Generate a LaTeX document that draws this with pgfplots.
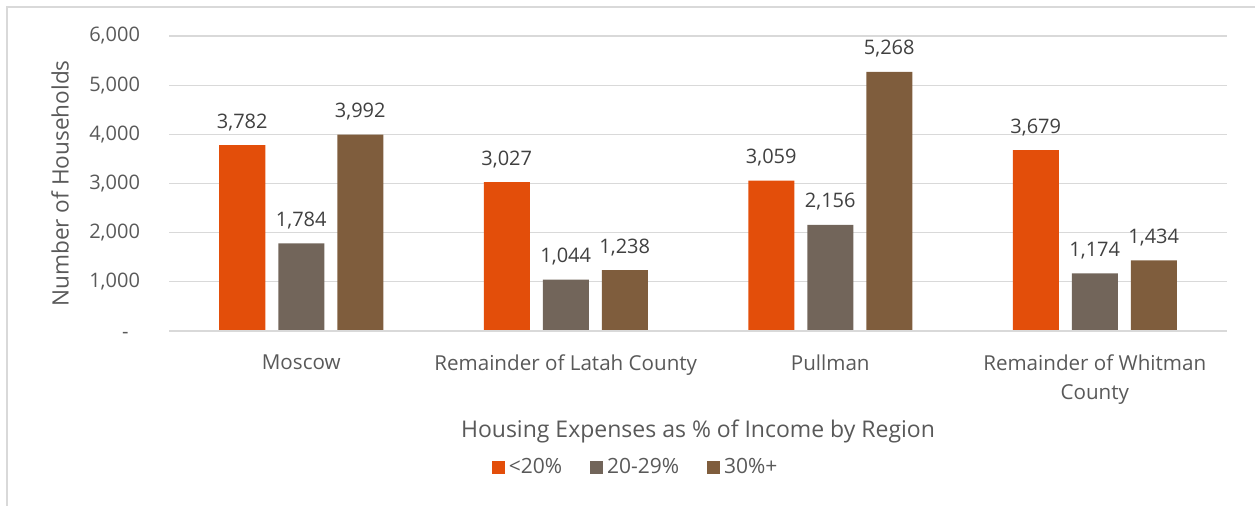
\documentclass[border=0pt]{standalone}
\usepackage{pgfplots}
\pgfplotsset{compat=1.18}
\usepackage{fontspec}
\setmainfont{Open Sans}
\definecolor{cA}{HTML}{E34E0A}
\definecolor{cB}{HTML}{72655A}
\definecolor{cC}{HTML}{7F5D3D}
\definecolor{txt}{HTML}{595959}
\definecolor{lbl}{HTML}{404040}
\definecolor{grd}{HTML}{D9D9D9}
\begin{document}
\begin{tikzpicture}
\useasboundingbox (0,0) rectangle (627.5pt,253pt);
\draw[grd, line width=0.6pt] (3.5pt,0) -- (3.5pt,249.5pt) -- (627.5pt,249.5pt);
\begin{axis}[
  at={(84.5pt,87.5pt)}, anchor=south west,
  scale only axis, width=529pt, height=147.5pt,
  ybar=6.5pt, bar width=23pt,
  xmin=-0.5, xmax=3.5, ymin=0, ymax=6000,
  xtick={0,1,2,3},
  xticklabels={Moscow, Remainder of Latah County, Pullman, {Remainder of Whitman\\County}},
  xticklabel style={align=center, font=\fontsize{10.3}{14.5}\selectfont, text=txt, anchor=north, yshift=-8.5pt},
  ytick={0,1000,2000,3000,4000,5000,6000},
  yticklabels={{-\phantom{0}},{1,000},{2,000},{3,000},{4,000},{5,000},{6,000}},
  yticklabel style={font=\fontsize{10}{12}\selectfont, text=txt, anchor=east, xshift=-11pt},
  major tick length=0pt, tick style={draw=none},
  axis line style={draw=none},
  ymajorgrids, grid style={grd, line width=0.6pt},
  clip=false,
  ylabel={Number of Households},
  ylabel style={at={(axis description cs:-0.103,0.5)}, anchor=center, font=\fontsize{11.3}{13}\selectfont, text=txt},
  xlabel={Housing Expenses as \% of Income by Region},
  xlabel style={at={(axis description cs:0.5,-0.339)}, anchor=center, font=\fontsize{11.5}{13}\selectfont, text=txt},
  nodes near coords,
  nodes near coords style={anchor=base, yshift=8.5pt, inner sep=0pt, font=\fontsize{10}{12}\selectfont, text=lbl,
    /pgf/number format/.cd, fixed, precision=0, 1000 sep={,}, assume math mode=true},
  legend style={at={(axis description cs:0.442,-0.464)}, anchor=center, draw=none, fill=none,
    legend columns=3, font=\fontsize{10.5}{12}\selectfont, text=txt,
    /tikz/every even column/.append style={column sep=12pt}},
  legend image code/.code={\fill[#1] (0pt,-3.25pt) rectangle (6.5pt,3.25pt);},
]
\addplot[fill=cA, draw=none] coordinates {(0,3782) (1,3027) (2,3059) (3,3679)};
\addplot[fill=cB, draw=none] coordinates {(0,1784) (1,1044) (2,2156) (3,1174)};
\addplot[fill=cC, draw=none] coordinates {(0,3992) (1,1238) (2,5268) (3,1434)};
\legend{{<20\%},{20-29\%},{30\%+}}
\draw[grd, line width=1pt] (rel axis cs:0,0) -- (rel axis cs:1,0);
\end{axis}
\end{tikzpicture}
\end{document}
